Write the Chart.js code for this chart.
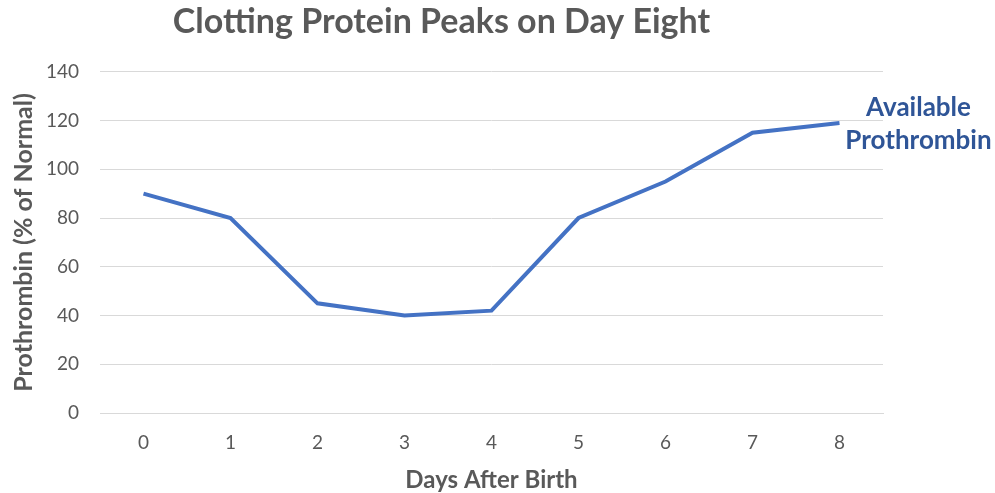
<!DOCTYPE html>
<html>
<head>
<meta charset="utf-8">
<script src="https://cdn.jsdelivr.net/npm/chart.js@4.4.1/dist/chart.umd.min.js"></script>
<style>
  html, body { margin: 0; padding: 0; background: #ffffff; }
  #wrap { width: 995px; height: 493px; position: relative; }
</style>
</head>
<body>
<div id="wrap"><canvas id="c" width="995" height="493"></canvas></div>
<script>
const chartTitle = 'Clotting Protein Peaks on Day Eight';
const days = ['0', '1', '2', '3', '4', '5', '6', '7', '8'];
const prothrombin = [90, 80, 45, 40, 42, 80, 95, 115, 119];
const seriesLabel = ['Available', 'Prothrombin'];
const yTitle = 'Prothrombin (% of Normal)';
const xTitle = 'Days After Birth';
const yMin = 0, yMax = 140, yStep = 20;

const gray = '#595959';
const lineBlue = '#4472C4';
const labelBlue = '#2F5597';
const FONT = 'Lato, "Open Sans", "Liberation Sans", sans-serif';

const endLabel = {
  id: 'endLabel',
  afterDatasetsDraw(chart) {
    const meta = chart.getDatasetMeta(0);
    const pt = meta.data[meta.data.length - 1];
    const ctx = chart.ctx;
    ctx.save();
    ctx.font = 'bold 26px ' + FONT;
    ctx.fillStyle = labelBlue;
    ctx.textAlign = 'center';
    ctx.textBaseline = 'middle';
    const cx = pt.x + 79;
    ctx.fillText(seriesLabel[0], cx, pt.y - 15);
    ctx.fillText(seriesLabel[1], cx, pt.y + 18);
    ctx.restore();
  }
};

new Chart(document.getElementById('c'), {
  type: 'line',
  data: {
    labels: days,
    datasets: [{
      label: seriesLabel.join(' '),
      data: prothrombin,
      borderColor: lineBlue,
      backgroundColor: lineBlue,
      borderWidth: 4,
      pointRadius: 0,
      tension: 0,
      fill: false
    }]
  },
  options: {
    responsive: false,
    animation: false,
    layout: { padding: { top: 0, left: 0, right: 112, bottom: 0 } },
    plugins: {
      legend: { display: false },
      tooltip: { enabled: false },
      title: {
        display: true,
        text: chartTitle,
        color: gray,
        font: { family: FONT, size: 34, weight: 'bold', lineHeight: 1.2 },
        padding: { top: 2, bottom: 29 }
      }
    },
    scales: {
      x: {
        type: 'category',
        offset: true,
        grid: { display: false, drawTicks: false },
        border: { display: true, color: '#d9d9d9', width: 1 },
        ticks: { color: gray, font: { family: FONT, size: 19 }, padding: 18, maxRotation: 0 },
        title: {
          display: true, text: xTitle, color: gray,
          font: { family: FONT, size: 24, weight: 'bold', lineHeight: 1 },
          padding: { top: 0, bottom: 1 }
        },
        afterFit(s) { s.height = 80; }
      },
      y: {
        min: yMin, max: yMax,
        grid: { color: '#d9d9d9', lineWidth: 1, drawTicks: false },
        border: { display: false },
        ticks: { stepSize: yStep, color: gray, font: { family: FONT, size: 19 }, padding: 21 },
        title: {
          display: true, text: yTitle, color: gray,
          font: { family: FONT, size: 25, weight: 'bold', lineHeight: 1 },
          padding: { top: 11, bottom: 0 }
        },
        afterFit(s) { s.width = 100; }
      }
    }
  },
  plugins: [endLabel]
});
</script>
</body>
</html>
